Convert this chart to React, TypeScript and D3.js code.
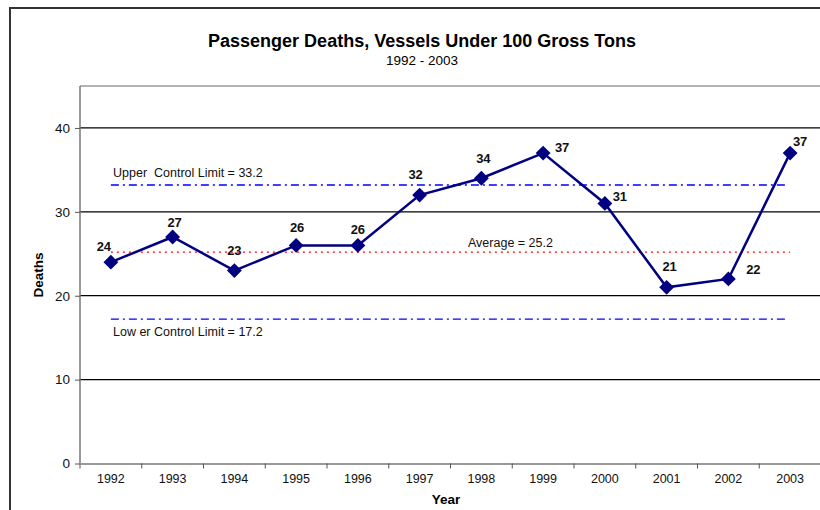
import React, { useEffect, useRef } from 'react';
import * as d3 from 'd3';

const years = ['1992', '1993', '1994', '1995', '1996', '1997', '1998', '1999', '2000', '2001', '2002', '2003'];
const deaths = [24, 27, 23, 26, 26, 32, 34, 37, 31, 21, 22, 37];
const yTicks = [0, 10, 20, 30, 40];
const average = 25.2;
const upperLimit = 33.2;
const lowerLimit = 17.2;

// where Excel put each data label, relative to its marker
const labelShift: [number, number][] = [
  [-7, -11], [2, -10], [0, -16], [1, -13], [0, -11], [-4, -16],
  [2, -15], [19, -1], [15, -2], [3, -16], [25, -5], [10, -7],
];

const font = 'Liberation Sans, Arial, sans-serif';

export default function App() {
  const ref = useRef<SVGSVGElement>(null);

  useEffect(() => {
    const svg = d3.select(ref.current);
    svg.selectAll('*').remove();

    const left = 80, right = 821, top = 86, bottom = 463.5;

    const x = d3.scaleBand().domain(years).range([left, right]);
    const y = d3.scaleLinear().domain([0, 45]).range([bottom, top]);
    const cx = (d: string) => (x(d) as number) + x.bandwidth() / 2;

    // outer frame
    svg.append('rect')
      .attr('x', 10).attr('y', 8).attr('width', 830).attr('height', 530)
      .attr('fill', 'white').attr('stroke', '#333').attr('stroke-width', 2);

    // title
    svg.append('text').attr('x', 422).attr('y', 47).attr('text-anchor', 'middle')
      .attr('font-family', font).attr('font-size', 18).attr('font-weight', 'bold')
      .text('Passenger Deaths, Vessels Under 100 Gross Tons');
    svg.append('text').attr('x', 422).attr('y', 65).attr('text-anchor', 'middle')
      .attr('font-family', font).attr('font-size', 13.5)
      .text('1992 - 2003');

    // gridlines
    svg.append('g').selectAll('line').data(yTicks.filter(t => t > 0)).enter().append('line')
      .attr('x1', left).attr('x2', right)
      .attr('y1', d => y(d)).attr('y2', d => y(d))
      .attr('stroke', 'black').attr('stroke-width', 1.2);

    // plot border top
    svg.append('line').attr('x1', left).attr('x2', right).attr('y1', top).attr('y2', top)
      .attr('stroke', '#999').attr('stroke-width', 1.5);

    // y axis
    const yAxis = svg.append('g').attr('transform', `translate(${left},0)`)
      .call(d3.axisLeft(y).tickValues(yTicks).tickSize(5).tickPadding(5));
    yAxis.select('.domain').attr('stroke', '#777').attr('stroke-width', 1.5)
      .attr('d', `M0,${top}V${bottom}`);
    yAxis.selectAll('.tick line').attr('stroke', '#555');
    yAxis.selectAll('.tick text').attr('font-family', font).attr('font-size', 13.5).attr('fill', '#111');

    // x axis
    const xAxis = svg.append('g').attr('transform', `translate(0,${bottom})`)
      .call(d3.axisBottom(x).tickSize(0).tickPadding(11));
    xAxis.select('.domain').attr('stroke', '#777').attr('stroke-width', 1.5);
    xAxis.selectAll('.tick text').attr('font-family', font).attr('font-size', 12.5).attr('fill', '#111');
    svg.append('g').selectAll('line').data(years).enter().append('line')
      .attr('x1', d => x(d) as number).attr('x2', d => x(d) as number)
      .attr('y1', bottom).attr('y2', bottom + 5)
      .attr('stroke', '#555');

    // axis titles
    svg.append('text').attr('transform', `translate(43,275) rotate(-90)`)
      .attr('text-anchor', 'middle').attr('font-family', font).attr('font-size', 13.5)
      .attr('font-weight', 'bold').text('Deaths');
    svg.append('text').attr('x', 446).attr('y', 504).attr('text-anchor', 'middle')
      .attr('font-family', font).attr('font-size', 13.5).attr('font-weight', 'bold').text('Year');

    // control limits and average
    const x0 = cx(years[0]);
    const x1 = cx(years[years.length - 1]);
    svg.append('line').attr('x1', x0).attr('x2', x1 - 5)
      .attr('y1', y(upperLimit)).attr('y2', y(upperLimit))
      .attr('stroke', '#0000ff').attr('stroke-width', 1.3).attr('stroke-dasharray', '8,4,2,4');
    svg.append('line').attr('x1', x0).attr('x2', x1 - 5)
      .attr('y1', y(lowerLimit)).attr('y2', y(lowerLimit))
      .attr('stroke', '#0000ff').attr('stroke-width', 1.3).attr('stroke-dasharray', '8,4,2,4');
    svg.append('line').attr('x1', x0).attr('x2', x1)
      .attr('y1', y(average)).attr('y2', y(average))
      .attr('stroke', '#ff0000').attr('stroke-width', 1.2).attr('stroke-dasharray', '2,4');

    svg.append('text').attr('x', 113).attr('y', y(upperLimit) - 8)
      .attr('font-family', font).attr('font-size', 12.5).attr('fill', '#111')
      .attr('xml:space', 'preserve').style('white-space', 'pre')
      .text('Upper  Control Limit = ' + upperLimit);
    svg.append('text').attr('x', 113).attr('y', y(lowerLimit) + 17)
      .attr('font-family', font).attr('font-size', 12.5).attr('fill', '#111')
      .text('Low er Control Limit = ' + lowerLimit);
    svg.append('text').attr('x', 468).attr('y', y(average) - 5)
      .attr('font-family', font).attr('font-size', 12.5).attr('fill', '#111')
      .text('Average = ' + average);

    // series line
    const line = d3.line<number>().x((d, i) => cx(years[i])).y(d => y(d));
    svg.append('path').datum(deaths).attr('d', line)
      .attr('fill', 'none').attr('stroke', '#000080').attr('stroke-width', 2.5);

    // markers
    svg.append('g').selectAll('path').data(deaths).enter().append('path')
      .attr('d', d3.symbol().type(d3.symbolDiamond2).size(140)())
      .attr('transform', (d, i) => `translate(${cx(years[i])},${y(d)})`)
      .attr('fill', '#000080');

    // data labels
    svg.append('g').selectAll('text').data(deaths).enter().append('text')
      .attr('x', (d, i) => cx(years[i]) + labelShift[i][0])
      .attr('y', (d, i) => y(d) + labelShift[i][1])
      .attr('text-anchor', 'middle').attr('font-family', font).attr('font-size', 13)
      .attr('font-weight', 'bold').attr('fill', '#111')
      .text(d => d);
  }, []);

  return (
    <svg ref={ref} width={820} height={510}
      style={{ position: 'absolute', left: 0, top: 0, background: 'white' }} />
  );
}
